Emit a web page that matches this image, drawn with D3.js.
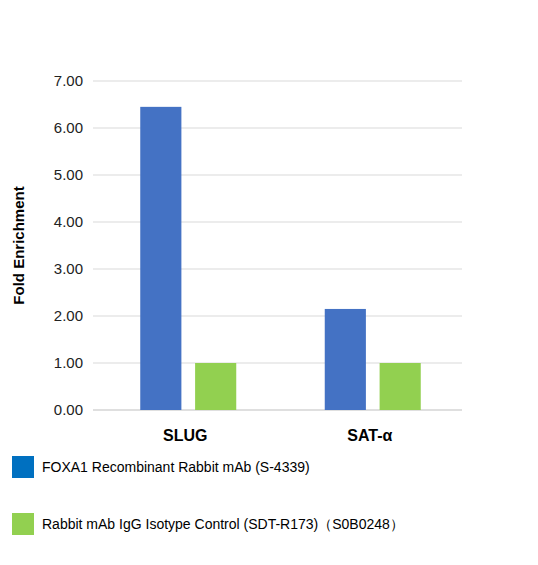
<!DOCTYPE html>
<html>
<head>
<meta charset="utf-8">
<script src="https://cdn.jsdelivr.net/npm/d3@7"></script>
<style>
body { margin: 0; background: #fff; }
text { font-family: Arial, "Liberation Sans", sans-serif; }
</style>
</head>
<body>
<div id="canvas"></div>
<script>
"use strict"

let categories = ["SLUG", "SAT-\u03b1"]
let seriesNames = ["FOXA1 Recombinant Rabbit mAb (S-4339)", "Rabbit mAb IgG Isotype Control (SDT-R173)\uff08S0B0248\uff09"]
let foxa1Values = [6.45, 2.15]
let controlValues = [1.0, 1.0]
let yTicks = [0, 1, 2, 3, 4, 5, 6, 7]
let colors = ["#4472C4", "#92D050"]
let legendColors = ["#0070C0", "#92D050"]

let svgWidth = 538
let svgHeight = 565
let margin = { top: 81, left: 93, right: 76, bottom: 155 }
let vizWidth = svgWidth - margin.left - margin.right
let vizHeight = svgHeight - margin.top - margin.bottom

let svg = d3.select("#canvas").append("svg")
    .attr("width", svgWidth)
    .attr("height", svgHeight)

let viz = svg.append("g").attr("transform", `translate(${margin.left},${margin.top})`)

let yScale = d3.scaleLinear().domain([0, 7]).range([vizHeight, 0])
let xScale = d3.scaleBand().domain(categories).range([0, vizWidth])
let inner = d3.scaleBand().domain([0, 1]).range([0, 96]).paddingInner(0.25)

viz.selectAll("line.grid").data(yTicks).join("line")
    .classed("grid", true)
    .attr("x1", 0).attr("x2", vizWidth)
    .attr("y1", d => yScale(d)).attr("y2", d => yScale(d))
    .attr("stroke", d => d === 0 ? "#bfbfbf" : "#d9d9d9")

let yAxis = viz.append("g").call(d3.axisLeft(yScale).tickValues(yTicks).tickFormat(d3.format(".2f")).tickSize(0).tickPadding(10))
yAxis.select(".domain").remove()
yAxis.selectAll("text").attr("font-size", 15).attr("fill", "#222")

let groups = [foxa1Values, controlValues]
groups.forEach(function (values, s) {
    viz.selectAll("rect.s" + s).data(categories).join("rect")
        .attr("class", "s" + s)
        .attr("x", d => xScale(d) + xScale.bandwidth() / 2 - 45 + inner(s))
        .attr("width", inner.bandwidth())
        .attr("y", (d, i) => yScale(values[i]))
        .attr("height", (d, i) => vizHeight - yScale(values[i]))
        .attr("fill", colors[s])
})

let xAxis = viz.append("g").attr("transform", `translate(0,${vizHeight})`)
    .call(d3.axisBottom(xScale).tickSize(0).tickPadding(20))
xAxis.select(".domain").remove()
xAxis.selectAll("text").attr("font-size", 16).attr("font-weight", "bold").attr("fill", "#000")

svg.append("text")
    .attr("transform", `translate(24,${margin.top + vizHeight / 2}) rotate(-90)`)
    .attr("text-anchor", "middle")
    .attr("font-size", 15).attr("font-weight", "bold")
    .text("Fold Enrichment")

let legend = svg.selectAll("g.legend").data(seriesNames).join("g")
    .classed("legend", true)
    .attr("transform", (d, i) => `translate(12,${456 + i * 57})`)
legend.append("rect").attr("width", 22).attr("height", 22).attr("fill", (d, i) => legendColors[i])
legend.append("text").attr("x", 30).attr("y", 16).attr("font-size", 14).text(d => d)
</script>
</body>
</html>
